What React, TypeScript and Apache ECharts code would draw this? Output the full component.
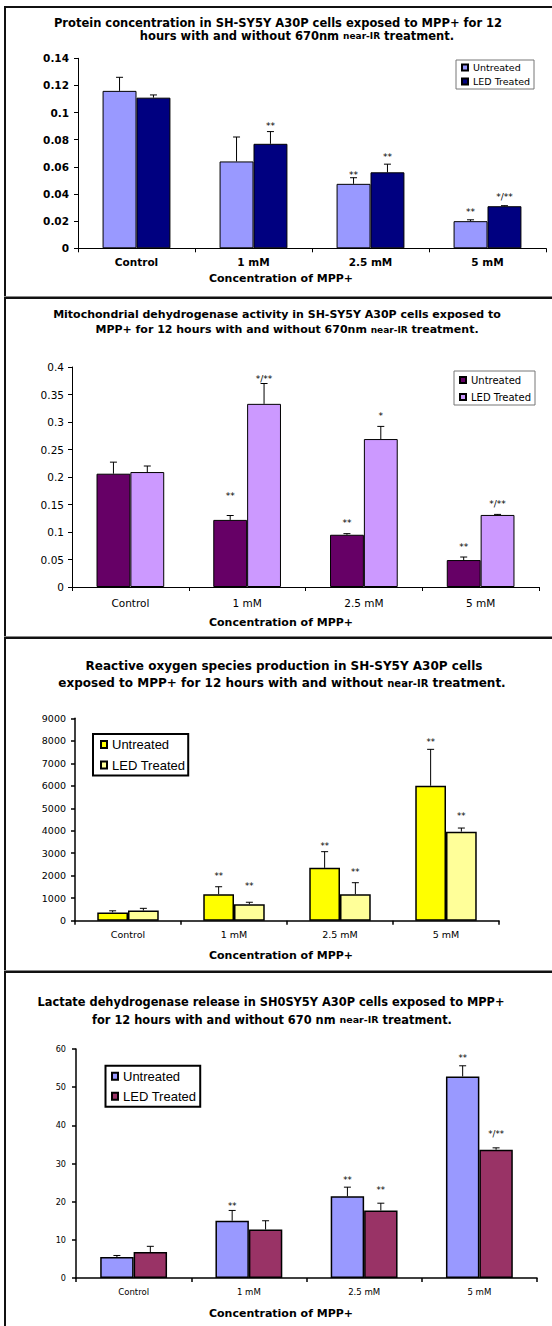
import React, { useEffect, useRef } from "react";
import * as echarts from "echarts";

// ---------- DATA ----------
const categories = ["Control", "1 mM", "2.5 mM", "5 mM"];
const seriesNames = ["Untreated", "LED Treated"];

// Panel 1: protein concentration
const proteinUntreated = [0.116, 0.064, 0.0475, 0.02];
const proteinUntreatedSD = [0.01, 0.018, 0.0045, 0.001];
const proteinLED = [0.111, 0.077, 0.056, 0.031];
const proteinLEDSD = [0.002, 0.009, 0.006, 0.0004];
const proteinUntreatedSig = ["", "", "**", "**"];
const proteinUntreatedSigAt = [null, null, 0.0558, 0.0283];
const proteinLEDSig = ["", "**", "**", "*/**"];
const proteinLEDSigAt = [null, 0.0917, 0.0689, 0.0393];
const proteinAxis = [0, 0.14, 0.02];

// Panel 2: mitochondrial dehydrogenase activity
const mitoUntreated = [0.206, 0.122, 0.095, 0.049];
const mitoUntreatedSD = [0.021, 0.008, 0.002, 0.0055];
const mitoLED = [0.209, 0.333, 0.269, 0.131];
const mitoLEDSD = [0.011, 0.037, 0.023, 0.001];
const mitoUntreatedSig = ["", "**", "**", "**"];
const mitoUntreatedSigAt = [null, 0.1704, 0.1218, 0.0776];
const mitoLEDSig = ["", "*/**", "*", "*/**"];
const mitoLEDSigAt = [null, 0.3836, 0.3158, 0.1564];
const mitoAxis = [0, 0.4, 0.05];

// Panel 3: reactive oxygen species
const rosUntreated = [370, 1180, 2350, 6000];
const rosUntreatedSD = [70, 330, 720, 1620];
const rosLED = [450, 730, 1180, 3960];
const rosLEDSD = [100, 90, 510, 160];
const rosUntreatedSig = ["", "**", "**", "**"];
const rosUntreatedSigAt = [null, 2090, 3442, 8066];
const rosLEDSig = ["", "**", "**", "**"];
const rosLEDSigAt = [null, 1663, 2285, 4776];
const rosAxis = [0, 9000, 1000];

// Panel 4: lactate dehydrogenase release
const ldhUntreated = [5.5, 15.0, 21.4, 52.8];
const ldhUntreatedSD = [0.4, 2.7, 2.4, 2.8];
const ldhLED = [6.8, 12.7, 17.7, 33.6];
const ldhLEDSD = [1.5, 2.3, 1.9, 0.5];
const ldhUntreatedSig = ["", "**", "**", "**"];
const ldhUntreatedSigAt = [null, 19.4, 26.2, 58.3];
const ldhLEDSig = ["", "", "**", "*/**"];
const ldhLEDSigAt = [null, null, 23.8, 38.4];
const ldhAxis = [0, 60, 10];

const xAxisName = "Concentration of MPP+";

// ---------- STYLE / LAYOUT ----------
const DV = "'DejaVu Sans', 'Liberation Sans', Arial, sans-serif";
const LS = "'Liberation Sans', Arial, sans-serif";
const NARROW = "'Liberation Sans Narrow', 'DejaVu Sans Condensed', 'Liberation Sans', Arial, sans-serif";
const GAP = 0.42;

type Cfg = {
  top: number;
  height: number;
  titles: { parts: [string, string][]; x: number; y: number }[];
  titleSize: number;
  titleSmall: number;
  grid: { left: number; right: number; top: number; bottom: number };
  axis: number[];
  colors: [string, string];
  values: [number[], number[]];
  sds: [number[], number[]];
  sigs: [string[], string[]];
  sigAt: [(number | null)[], (number | null)[]];
  legend: any;
  yLabel: any;
  xLabel: any;
  axisWidth: number;
  barBorder: number;
  sigSize: number;
  nameY: number;
};

function richTitle(parts: [string, string][]) {
  return parts.map(([k, t]) => `{${k}|${t}}`).join("");
}

function buildOption(c: Cfg) {
  const series: any[] = [];
  [0, 1].forEach((s) => {
    series.push({
      type: "bar",
      name: seriesNames[s],
      data: c.values[s],
      barGap: "0%",
      barCategoryGap: GAP * 100 + "%",
      itemStyle: { color: c.colors[s], borderColor: "#000", borderWidth: c.barBorder },
      z: 2,
    });
  });
  [0, 1].forEach((s) => {
    const sigs = c.sigs[s];
    const sigAt = c.sigAt[s];
    series.push({
      type: "custom",
      name: "err" + s,
      z: 5,
      encode: { x: 0, y: 1 },
      data: c.values[s].map((v, i) => [i, v, v + c.sds[s][i]]),
      renderItem: (params: any, api: any) => {
        const i = api.value(0);
        const v = api.value(1);
        const t = api.value(2);
        const base = api.coord([i, v]);
        const tp = api.coord([i, t]);
        const band = api.size([1, 0])[0];
        const bw = (band * (1 - GAP)) / 2;
        const x = base[0] + (s === 0 ? -bw / 2 : bw / 2);
        const cap = 3.5;
        const children: any[] = [
          { type: "line", shape: { x1: x, y1: base[1], x2: x, y2: tp[1] }, style: { stroke: "#000", lineWidth: 1 } },
          { type: "line", shape: { x1: x - cap, y1: tp[1], x2: x + cap, y2: tp[1] }, style: { stroke: "#000", lineWidth: 1 } },
        ];
        const sig = sigs[params.dataIndex];
        const at = sigAt[params.dataIndex];
        if (sig && at != null) {
          const p = api.coord([i, at]);
          children.push({
            type: "text",
            x,
            y: p[1] + c.sigSize * 0.28,
            style: {
              text: sig,
              fill: "#000",
              fontSize: c.sigSize,
              fontFamily: DV,
              align: "center",
              verticalAlign: "middle",
            },
          });
        }
        return { type: "group", children };
      },
    });
  });

  const rich = {
    b: { fontFamily: DV, fontWeight: "bold", fontSize: c.titleSize, color: "#000" },
    s: { fontFamily: DV, fontWeight: "bold", fontSize: c.titleSmall, color: "#000" },
  };

  return {
    animation: false,
    backgroundColor: "transparent",
    title: c.titles.map((t) => ({
      text: richTitle(t.parts),
      left: t.x,
      top: t.y - c.titleSize * 0.6,
      textAlign: "center",
      padding: 0,
      textStyle: { rich, fontFamily: DV, fontWeight: "bold", fontSize: c.titleSize },
    })),
    grid: c.grid,
    legend: {
      data: seriesNames,
      orient: "vertical",
      selectedMode: false,
      icon: "rect",
      ...c.legend,
    },
    xAxis: {
      type: "category",
      data: categories,
      axisLine: { show: true, lineStyle: { color: "#000", width: c.axisWidth } },
      axisTick: { show: true, length: 4, interval: 0, alignWithLabel: false, lineStyle: { color: "#000", width: c.axisWidth } },
      axisLabel: { color: "#000", interval: 0, ...c.xLabel },
      splitLine: { show: false },
    },
    yAxis: {
      type: "value",
      min: c.axis[0],
      max: c.axis[1],
      interval: c.axis[2],
      axisLine: { show: true, lineStyle: { color: "#000", width: c.axisWidth } },
      axisTick: { show: true, length: 4, lineStyle: { color: "#000", width: c.axisWidth } },
      axisLabel: {
        color: "#000",
        formatter: (v: number) => String(parseFloat(v.toFixed(4))),
        ...c.yLabel,
      },
      splitLine: { show: false },
    },
    graphic: [
      {
        type: "text",
        x: 281,
        y: c.nameY,
        style: {
          text: xAxisName,
          fill: "#000",
          fontFamily: DV,
          fontWeight: "bold",
          fontSize: 11,
          align: "center",
          verticalAlign: "middle",
        },
      },
    ],
    series,
  };
}

const panels: Cfg[] = [
  {
    top: 0,
    height: 297,
    titles: [
      { parts: [["b", "Protein concentration in SH-SY5Y A30P cells exposed to MPP+ for 12"]], x: 278, y: 24 },
      { parts: [["b", "hours with and without 670nm "], ["s", "near-IR"], ["b", " treatment."]], x: 297, y: 37 },
    ],
    titleSize: 11.5,
    titleSmall: 9,
    grid: { left: 78, right: 6, top: 58.3, bottom: 48.7 },
    axis: proteinAxis,
    colors: ["#9999FF", "#000080"],
    values: [proteinUntreated, proteinLED],
    sds: [proteinUntreatedSD, proteinLEDSD],
    sigs: [proteinUntreatedSig, proteinLEDSig],
    sigAt: [proteinUntreatedSigAt, proteinLEDSigAt],
    legend: {
      left: 456,
      top: 60,
      itemWidth: 6,
      itemHeight: 6,
      itemGap: 3,
      padding: [2, 4, 2, 5],
      borderColor: "#777",
      borderWidth: 1,
      textStyle: { fontFamily: DV, fontSize: 9.5, color: "#000", lineHeight: 11 },
    },
    yLabel: { fontFamily: DV, fontWeight: "bold", fontSize: 10.5, margin: 9 },
    xLabel: { fontFamily: DV, fontWeight: "bold", fontSize: 10.5, margin: 8 },
    axisWidth: 1,
    barBorder: 1,
    sigSize: 9,
    nameY: 278,
  },
  {
    top: 297,
    height: 340,
    titles: [
      { parts: [["b", "Mitochondrial dehydrogenase activity in SH-SY5Y A30P cells exposed to"]], x: 277, y: 18.7 },
      { parts: [["b", "MPP+ for 12 hours with and without 670nm "], ["s", "near-IR"], ["b", " treatment."]], x: 287, y: 34 },
    ],
    titleSize: 11,
    titleSmall: 9,
    grid: { left: 72, right: 13, top: 70, bottom: 50 },
    axis: mitoAxis,
    colors: ["#660066", "#CC99FF"],
    values: [mitoUntreated, mitoLED],
    sds: [mitoUntreatedSD, mitoLEDSD],
    sigs: [mitoUntreatedSig, mitoLEDSig],
    sigAt: [mitoUntreatedSigAt, mitoLEDSigAt],
    legend: {
      left: 454,
      top: 74,
      itemWidth: 6,
      itemHeight: 6,
      itemGap: 5,
      padding: [3, 4, 2, 5],
      borderColor: "#777",
      borderWidth: 1,
      textStyle: { fontFamily: DV, fontSize: 10, color: "#000", lineHeight: 12 },
    },
    yLabel: { fontFamily: DV, fontSize: 10.5, margin: 8 },
    xLabel: { fontFamily: DV, fontSize: 10.5, margin: 10 },
    axisWidth: 1,
    barBorder: 1,
    sigSize: 9,
    nameY: 325.3,
  },
  {
    top: 637,
    height: 334,
    titles: [
      { parts: [["b", "Reactive oxygen species production in SH-SY5Y A30P cells"]], x: 284, y: 30.3 },
      { parts: [["b", "exposed to MPP+ for 12 hours with and without "], ["s", "near-IR"], ["b", " treatment."]], x: 282, y: 47.3 },
    ],
    titleSize: 12,
    titleSmall: 10,
    grid: { left: 75, right: 53, top: 81.3, bottom: 50.3 },
    axis: rosAxis,
    colors: ["#FFFF00", "#FFFF99"],
    values: [rosUntreated, rosLED],
    sds: [rosUntreatedSD, rosLEDSD],
    sigs: [rosUntreatedSig, rosLEDSig],
    sigAt: [rosUntreatedSigAt, rosLEDSigAt],
    legend: {
      left: 93,
      top: 97,
      itemWidth: 6,
      itemHeight: 7,
      itemGap: 5.5,
      padding: [3, 3, 3, 7],
      borderColor: "#000",
      borderWidth: 2,
      textStyle: { fontFamily: LS, fontSize: 13, color: "#000", lineHeight: 15 },
    },
    yLabel: { fontFamily: DV, fontSize: 9.5, margin: 9 },
    xLabel: { fontFamily: DV, fontSize: 9.5, margin: 8.5 },
    axisWidth: 1.5,
    barBorder: 1.5,
    sigSize: 8.5,
    nameY: 318.7,
  },
  {
    top: 971,
    height: 355,
    titles: [
      { parts: [["b", "Lactate dehydrogenase release in SH0SY5Y A30P cells exposed to MPP+"]], x: 271, y: 32 },
      { parts: [["b", "for 12 hours with and without 670 nm "], ["s", "near-IR"], ["b", " treatment."]], x: 272, y: 50.3 },
    ],
    titleSize: 11.4,
    titleSmall: 9.5,
    grid: { left: 76, right: 15, top: 78, bottom: 48 },
    axis: ldhAxis,
    colors: ["#9999FF", "#993366"],
    values: [ldhUntreated, ldhLED],
    sds: [ldhUntreatedSD, ldhLEDSD],
    sigs: [ldhUntreatedSig, ldhLEDSig],
    sigAt: [ldhUntreatedSigAt, ldhLEDSigAt],
    legend: {
      left: 105.5,
      top: 94.7,
      itemWidth: 6,
      itemHeight: 7,
      itemGap: 5,
      padding: [3, 4, 3, 5.5],
      borderColor: "#000",
      borderWidth: 2,
      textStyle: { fontFamily: LS, fontSize: 13, color: "#000", lineHeight: 15 },
    },
    yLabel: { fontFamily: NARROW, fontSize: 9, margin: 10 },
    xLabel: { fontFamily: NARROW, fontSize: 9.5, margin: 8 },
    axisWidth: 1.5,
    barBorder: 1.5,
    sigSize: 8.5,
    nameY: 342,
  },
];

function Panel({ cfg }: { cfg: Cfg }) {
  const ref = useRef<HTMLDivElement>(null);
  useEffect(() => {
    if (!ref.current) return;
    const chart = echarts.init(ref.current, null, { renderer: "svg" });
    chart.setOption(buildOption(cfg) as any);
    return () => chart.dispose();
  }, [cfg]);
  return (
    <div
      ref={ref}
      style={{ position: "absolute", left: 0, top: cfg.top, width: 552, height: cfg.height }}
    />
  );
}

const line = (l: number, t: number, w: number, h: number, c = "#111") => (
  <div style={{ position: "absolute", left: l, top: t, width: w, height: h, background: c }} />
);

export default function App() {
  return (
    <div
      style={{
        position: "absolute",
        left: 0,
        top: 0,
        width: 552,
        height: 1326,
        background: "#fff",
        overflow: "hidden",
      }}
    >
      {panels.map((p, i) => (
        <Panel key={i} cfg={p} />
      ))}
      {line(4, 6, 548, 2)}
      {line(4, 6, 2, 1320)}
      {line(4, 295.5, 548, 1, "#888")}
      {line(4, 296.5, 548, 2)}
      {line(4, 636, 548, 1, "#888")}
      {line(4, 637, 548, 2)}
      {line(4, 969.5, 548, 1, "#888")}
      {line(4, 970.5, 548, 2)}
    </div>
  );
}
